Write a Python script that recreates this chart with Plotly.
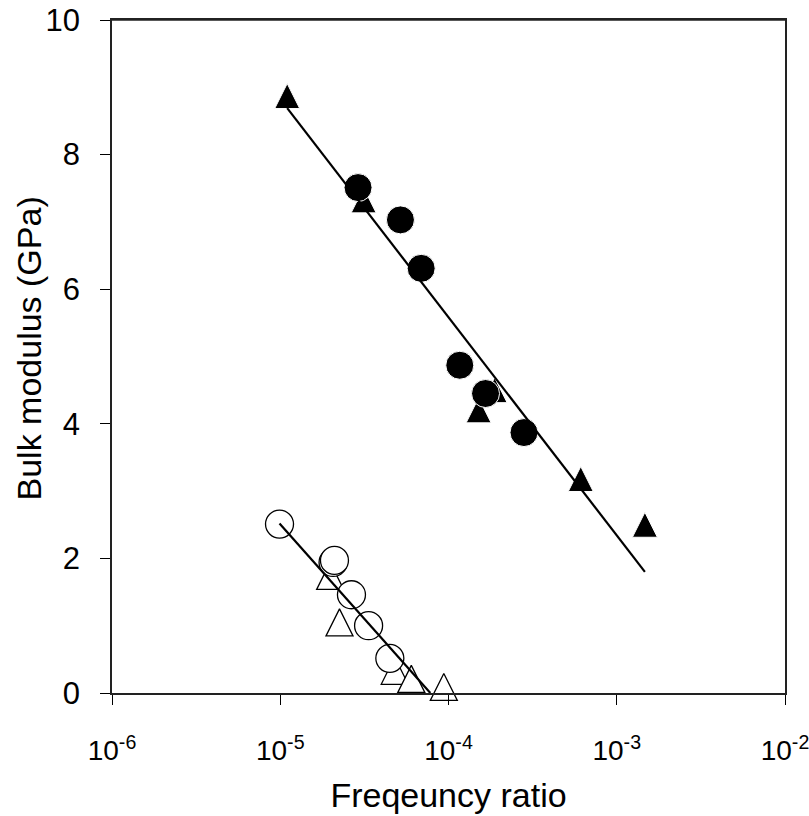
import plotly.graph_objects as go

# ---- data ----
filled_tri_x = [1.10e-5, 3.13e-5, 1.51e-4, 1.88e-4, 6.11e-4, 1.47e-3]
filled_tri_y = [8.87, 7.32, 4.20, 4.50, 3.18, 2.50]
filled_circ_x = [2.90e-5, 5.18e-5, 6.88e-5, 1.167e-4, 1.66e-4, 2.81e-4]
filled_circ_y = [7.51, 7.03, 6.31, 4.87, 4.45, 3.87]
open_tri_x = [1.98e-5, 2.25e-5, 4.79e-5, 6.01e-5, 9.38e-5]
open_tri_y = [1.74, 1.05, 0.33, 0.21, 0.09]
open_circ_x = [9.9e-6, 2.06e-5, 2.10e-5, 2.65e-5, 3.35e-5, 4.48e-5]
open_circ_y = [2.51, 1.94, 1.97, 1.46, 1.00, 0.515]
fit_filled_x = [1.10e-5, 1.47e-3]
fit_filled_y = [8.69, 1.80]
fit_open_x = [9.9e-6, 7.8e-5]
fit_open_y = [2.52, 0.0]

x_tickvals = [1e-6, 1e-5, 1e-4, 1e-3, 1e-2]
x_ticktext = ["10<sup>-6</sup>", "10<sup>-5</sup>", "10<sup>-4</sup>", "10<sup>-3</sup>", "10<sup>-2</sup>"]
y_tickvals = [0, 2, 4, 6, 8, 10]
x_title = "Freqeuncy ratio"
y_title = "Bulk modulus (GPa)"

FONT = "Liberation Sans, Arial, sans-serif"
TRI_SIZE = 25
OTRI_SIZE = 27

def tri_marker(size, fill, line_color, line_width):
    # upward triangle with equal width and height, centred on the point
    return dict(symbol="arrow-down", angle=180, standoff=size / 2, size=size,
                color=fill, line=dict(color=line_color, width=line_width))

fig = go.Figure()

fig.add_trace(go.Scatter(x=open_tri_x, y=open_tri_y, mode="markers", cliponaxis=False,
                         marker=tri_marker(OTRI_SIZE, "white", "black", 1.3)))
fig.add_trace(go.Scatter(x=open_circ_x, y=open_circ_y, mode="markers", cliponaxis=False,
                         marker=dict(symbol="circle", size=28, color="white",
                                     line=dict(color="black", width=1.3))))
fig.add_trace(go.Scatter(x=filled_tri_x, y=filled_tri_y, mode="markers", cliponaxis=False,
                         marker=tri_marker(TRI_SIZE, "black", "white", 1)))
fig.add_trace(go.Scatter(x=filled_circ_x, y=filled_circ_y, mode="markers", cliponaxis=False,
                         marker=dict(symbol="circle", size=28, color="black",
                                     line=dict(color="white", width=1))))
fig.add_trace(go.Scatter(x=fit_filled_x, y=fit_filled_y, mode="lines",
                         line=dict(color="black", width=2.2)))
fig.add_trace(go.Scatter(x=fit_open_x, y=fit_open_y, mode="lines",
                         line=dict(color="black", width=2.2)))

fig.update_layout(
    width=809, height=816,
    margin=dict(l=112, r=24, t=20, b=123),
    paper_bgcolor="white", plot_bgcolor="white",
    showlegend=False,
    font=dict(family=FONT, color="black"),
    annotations=[dict(text=y_title, xref="paper", yref="paper", x=0, y=0.5,
                      xanchor="center", yanchor="middle", textangle=-90,
                      xshift=-84, yshift=8, showarrow=False,
                      font=dict(size=34, family=FONT, color="black"))],
    shapes=[dict(type="line", xref="paper", yref="paper", x0=0, x1=1, y0=1, y1=1,
                 line=dict(color="#222", width=1.5))],
)
fig.update_xaxes(
    type="log", range=[-6, -2], automargin=False,
    tickvals=x_tickvals, ticktext=x_ticktext,
    ticks="outside", ticklen=10, tickwidth=1.3, tickcolor="black",
    showline=True, linecolor="#222", linewidth=1.5, mirror=True,
    showgrid=False, zeroline=False,
    tickfont=dict(size=28, family=FONT, color="black"),
    ticklabelstandoff=22, ticklabeloverflow="allow",
    title=dict(text=x_title, font=dict(size=34, family=FONT, color="black"), standoff=18),
)
fig.update_yaxes(
    range=[0, 10], tickvals=y_tickvals, automargin=False,
    ticks="outside", ticklen=10, tickwidth=1.3, tickcolor="black",
    showline=True, linecolor="#222", linewidth=1.5, mirror=True,
    showgrid=False, zeroline=False,
    tickfont=dict(size=31, family=FONT, color="black"),
    ticklabelstandoff=14, ticklabeloverflow="allow",
)

fig.write_html("out.html", config={"displayModeBar": False},
               post_script="document.body.style.margin='0';")
